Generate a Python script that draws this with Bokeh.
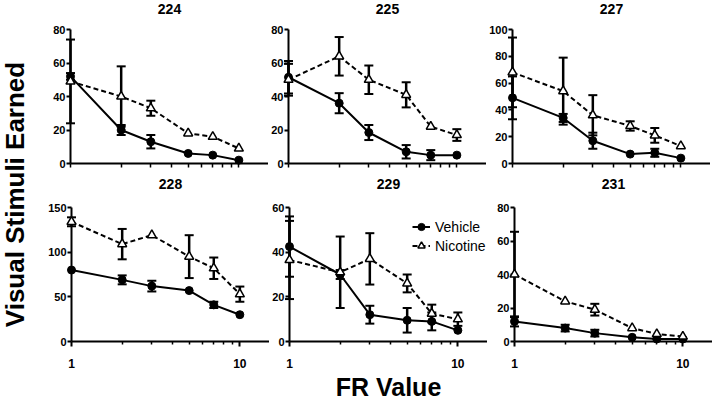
from math import pi, sqrt
from bokeh.plotting import figure
from bokeh.models import (Range1d, FixedTicker, ColumnDataSource, Legend, LegendItem,
                          Label, CustomJSTickFormatter)
from bokeh.core.properties import value
from bokeh.layouts import row, column
from bokeh.embed import file_html
from bokeh.resources import INLINE

# ---------------- data ----------------
fr_values = [1, 2, 3, 5, 7, 10]
x_major_ticks = [1, 10]
x_minor_ticks = [2, 3, 4, 5, 6, 7, 8, 9]
x_all_ticks = [1, 2, 3, 4, 5, 6, 7, 8, 9, 10]
x_min = 1
x_max = 15

veh_224 = [52, 20, 13, 6, 5, 2]
veh_err_224 = [2, 3, 4, 0, 0, 0]
nic_224 = [49, 40, 33, 18, 16, 9]
nic_err_224 = [25, 18, 4.5, 0, 0, 0]
yticks_224 = [0, 20, 40, 60, 80]

veh_225 = [51.5, 36, 18.5, 7, 5, 5]
veh_err_225 = [9.7, 6, 4.5, 4, 3, 0]
nic_225 = [50, 64, 50, 41, 22, 17]
nic_err_225 = [9.5, 11.5, 8.5, 7.5, 0, 3.5]
yticks_225 = [0, 20, 40, 60, 80]

veh_227 = [49, 34, 17, 7, 8, 4]
veh_err_227 = [16, 3, 6, 0, 3, 0]
nic_227 = [68, 54, 36, 28, 21, 13]
nic_err_227 = [26, 25, 15, 3.5, 5.5, 0]
yticks_227 = [0, 20, 40, 60, 80, 100]

veh_228 = [80, 69, 62, 57, 41, 30]
veh_err_228 = [0, 5, 6, 0, 3.5, 0]
nic_228 = [134, 109, 119, 95, 82, 53]
nic_err_228 = [5, 17, 0, 24, 12, 8.5]
yticks_228 = [0, 50, 100, 150]

veh_229 = [42.5, 30, 12, 9.5, 9, 5]
veh_err_229 = [13.5, 2, 4, 5.5, 4, 0]
nic_229 = [36.5, 31, 37, 26, 12.5, 10]
nic_err_229 = [17.5, 16, 11.5, 4, 4, 3]
yticks_229 = [0, 20, 40, 60]

veh_231 = [12, 8, 5, 2.5, 1.5, 1.5]
veh_err_231 = [3, 2, 2, 0, 0, 0]
nic_231 = [40, 24, 19, 8, 4.5, 3]
nic_err_231 = [25.5, 0, 3.5, 0, 0, 0]
yticks_231 = [0, 20, 40, 60, 80]

# ---------------- style ----------------
FONT = "Liberation Sans"
FW = 198
FH = 134
X_CENTER = sqrt(x_min * x_max)   # middle of the log axis


def add_errorbars(p, ys, errs):
    xs = [x for x, e in zip(fr_values, errs) if e > 0]
    lo = [y - e for y, e in zip(ys, errs) if e > 0]
    hi = [y + e for y, e in zip(ys, errs) if e > 0]
    src = ColumnDataSource(dict(x=xs, lo=lo, hi=hi))
    p.segment(x0="x", y0="lo", x1="x", y1="hi", source=src, line_color="black",
              line_width=2.5, level="overlay")
    p.scatter(x="x", y="lo", source=src, marker="dash", size=9, line_color="black",
              line_width=2, level="overlay")
    p.scatter(x="x", y="hi", source=src, marker="dash", size=9, line_color="black",
              line_width=2, level="overlay")


def add_text(p, x, y, txt, y_offset, size):
    src = ColumnDataSource(dict(x=[x], y=[y], t=[txt]))
    p.text(x="x", y="y", text="t", source=src, y_offset=y_offset,
           text_align=value("center"), text_baseline=value("alphabetic"),
           text_font=value(FONT), text_font_style=value("bold"),
           text_font_size=value(size), text_color="black", level="overlay")


def make_panel(name, veh, veh_err, nic, nic_err, yticks, left_border,
               top_border, bottom_border, bottom_row, title_gap):
    p = figure(output_backend="svg", toolbar_location=None, x_axis_type="log",
               title=None,
               x_range=Range1d(x_min, x_max), y_range=Range1d(0, yticks[-1]),
               frame_width=FW, frame_height=FH,
               min_border_left=left_border, min_border_right=0,
               min_border_top=top_border, min_border_bottom=bottom_border)
    p.outline_line_color = None
    p.xgrid.visible = False
    p.ygrid.visible = False
    p.background_fill_color = "white"
    p.border_fill_color = "white"

    xa = p.xaxis[0]
    xa.axis_line_width = 2
    xa.major_tick_line_width = 2
    xa.minor_tick_line_width = 1.5
    xa.major_tick_in = 0
    xa.minor_tick_in = 0
    if bottom_row:
        xa.ticker = FixedTicker(ticks=x_major_ticks, minor_ticks=x_minor_ticks)
        xa.formatter = CustomJSTickFormatter(code="return tick.toFixed(0)")
        xa.major_tick_out = 5
        xa.minor_tick_out = 3
        xa.major_label_standoff = 12
        xa.major_label_text_font = FONT
        xa.major_label_text_font_style = "bold"
        xa.major_label_text_font_size = "12px"
        xa.major_label_text_color = "black"
    else:
        xa.ticker = FixedTicker(ticks=[], minor_ticks=x_all_ticks)
        xa.minor_tick_out = 4

    ya = p.yaxis[0]
    ya.ticker = FixedTicker(ticks=yticks)
    ya.axis_line_width = 2
    ya.major_tick_line_width = 2
    ya.minor_tick_line_color = None
    ya.major_tick_out = 4
    ya.major_tick_in = 0
    ya.major_label_standoff = 1
    ya.major_label_text_font = FONT
    ya.major_label_text_font_style = "bold"
    ya.major_label_text_font_size = "11px"
    ya.major_label_text_color = "black"

    add_errorbars(p, veh, veh_err)
    add_errorbars(p, nic, nic_err)

    src = ColumnDataSource(dict(x=fr_values, veh=veh, nic=nic))
    vl = p.line("x", "veh", source=src, line_color="black", line_width=2, level="overlay")
    nl = p.line("x", "nic", source=src, line_color="black", line_width=2,
                line_dash="5 3", level="overlay")
    vs = p.scatter("x", "veh", source=src, marker="circle", size=8,
                   fill_color="black", line_color="black", level="overlay")
    ns = p.scatter("x", "nic", source=src, marker="triangle", size=9,
                   fill_color="white", line_color="black", line_width=1.5,
                   level="overlay")

    # panel title, anchored at the top of the y axis
    add_text(p, X_CENTER, yticks[-1], name, -title_gap, "14px")
    return p, (vl, vs, nl, ns)


p224, _ = make_panel("224", veh_224, veh_err_224, nic_224, nic_err_224, yticks_224,
                     40, 29, 13, False, 21)
p225, _ = make_panel("225", veh_225, veh_err_225, nic_225, nic_err_225, yticks_225,
                     18, 29, 13, False, 21)
p227, _ = make_panel("227", veh_227, veh_err_227, nic_227, nic_err_227, yticks_227,
                     24, 29, 13, False, 21)
p228, _ = make_panel("228", veh_228, veh_err_228, nic_228, nic_err_228, yticks_228,
                     41, 31, 40, True, 24)
p229, r229 = make_panel("229", veh_229, veh_err_229, nic_229, nic_err_229, yticks_229,
                        18, 31, 61, True, 24)
p231, _ = make_panel("231", veh_231, veh_err_231, nic_231, nic_err_231, yticks_231,
                     27, 31, 40, True, 24)

vl, vs, nl, ns = r229
legend = Legend(items=[LegendItem(label="Vehicle", renderers=[vl, vs]),
                       LegendItem(label="Nicotine", renderers=[nl, ns])],
                location=(123, 86), orientation="vertical",
                glyph_width=18, glyph_height=19, label_height=19,
                label_standoff=5, padding=0, spacing=0, margin=0,
                border_line_color=None, background_fill_alpha=0,
                label_text_font=FONT, label_text_font_size="14px",
                label_text_color="black")
p229.add_layout(legend)

# shared x-axis title, anchored at the x axis of the middle bottom panel
add_text(p229, X_CENTER, 0, "FR Value", 45, "25px")

# left strip with the shared y-axis title
left = figure(output_backend="svg", toolbar_location=None, frame_width=30,
              frame_height=402, min_border=0, x_axis_location=None,
              y_axis_location=None, x_range=Range1d(0, 1), y_range=Range1d(0, 1))
left.outline_line_color = None
left.xgrid.visible = False
left.ygrid.visible = False
left.add_layout(Label(x=14, y=208, x_units="screen", y_units="screen",
                      text="Visual Stimuli Earned", angle=pi / 2, text_align="center",
                      text_baseline="middle", text_font=FONT, text_font_style="bold",
                      text_font_size="26px", text_color="black"))

grid = column(row(p224, p225, p227), row(p228, p229, p231))
layout = row(left, grid)

open("out.html", "w").write(file_html(layout, INLINE))
